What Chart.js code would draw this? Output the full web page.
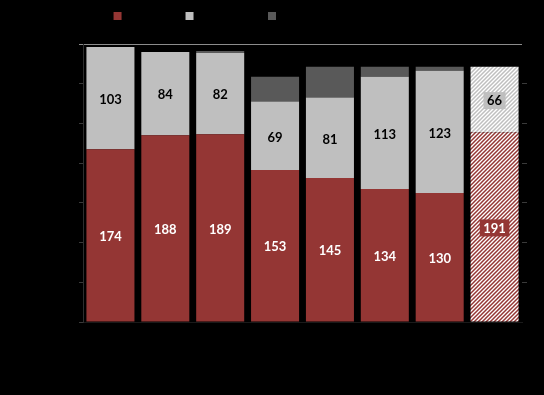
<!DOCTYPE html>
<html><head><meta charset="utf-8">
<style>html,body{margin:0;padding:0;background:#000;}#wrap{width:544px;height:395px;}</style>
<script src="https://cdn.jsdelivr.net/npm/chart.js@4/dist/chart.umd.min.js"></script>
</head><body><div id="wrap"><canvas id="c" width="544" height="395"></canvas></div>
<script>
const categories = ['2016','2017','2018','2019','2020','2021','2022','2023e'];
const seriesNames = ['Germany','EU exports','Other countries/unspecified'];
const redValues = [174,188,189,153,145,134,130,191];
const lightValues = [103,84,82,69,81,113,123,66];
const darkValues = [0,0,2,25,31,10,4,0];
const yTicks = [0,40,80,120,160,200,240,280];
const forecastIndex = 7;

const RED = '#943634', LIGHT = '#bfbfbf', DARK = '#595959';

function hatch(color){
  const s = 4, c = document.createElement('canvas'); c.width = s; c.height = s;
  const g = c.getContext('2d');
  g.fillStyle = '#fff'; g.fillRect(0,0,s,s);
  g.strokeStyle = color; g.lineWidth = 1.5; g.beginPath();
  g.moveTo(0,s); g.lineTo(s,0);
  g.moveTo(-1,1); g.lineTo(1,-1);
  g.moveTo(s-1,s+1); g.lineTo(s+1,s-1);
  g.stroke();
  return g.createPattern(c,'repeat');
}
const redHatch = hatch(RED), lightHatch = hatch(LIGHT);

const legendFit = {id:'legendFit', beforeInit(chart){
  const l = chart.legend; if(!l) return;
  const f = l.fit;
  l.fit = function(){ f.call(l); this.height = 44; };
}};

const valueLabels = {id:'valueLabels', afterDatasetsDraw(chart){
  const ctx = chart.ctx; ctx.save();
  ctx.font = 'bold 13px Lato'; ctx.textAlign = 'center'; ctx.textBaseline = 'middle';
  [0,1].forEach(di => {
    const meta = chart.getDatasetMeta(di);
    meta.data.forEach((bar,i) => {
      const v = chart.data.datasets[di].data[i]; if(!v) return;
      const x = bar.x, y = (bar.y + bar.base)/2, t = String(v);
      if(i === forecastIndex){
        const w = ctx.measureText(t).width + 7, h = 17;
        ctx.fillStyle = di === 0 ? RED : LIGHT;
        ctx.fillRect(x - w/2, y - h/2 + 1, w, h);
      }
      ctx.fillStyle = di === 0 ? '#ffffff' : '#000000';
      ctx.fillText(t, x, y + 1.5);
    });
  });
  ctx.restore();
}};

new Chart(document.getElementById('c'), {
  type:'bar',
  data:{
    labels: categories,
    datasets:[
      {label: seriesNames[0], data: redValues, backgroundColor: c => c.dataIndex === forecastIndex ? redHatch : RED},
      {label: seriesNames[1], data: lightValues, backgroundColor: c => c.dataIndex === forecastIndex ? lightHatch : LIGHT},
      {label: seriesNames[2], data: darkValues, backgroundColor: DARK}
    ]
  },
  options:{
    responsive:false, animation:false, devicePixelRatio:1,
    categoryPercentage:1, barPercentage:0.875,
    layout:{padding:0},
    plugins:{
      legend:{position:'top', labels:{boxWidth:8, boxHeight:8, padding:10, color:'#000', font:{family:'Lato', size:12}}},
      tooltip:{enabled:false}
    },
    scales:{
      x:{stacked:true, grid:{display:false}, border:{color:'#1a1a1a'},
         ticks:{color:'#000', font:{family:'Lato', size:12}},
         afterFit: s => { s.height = 73; }},
      y:{stacked:true, min:0, max:280, position:'left',
         afterBuildTicks: s => { s.ticks = yTicks.map(v => ({value:v})); },
         grid:{color: c => c.tick && c.tick.value === 280 ? '#8c8c8c' : 'rgba(0,0,0,0)',
               tickColor: c => c.tick && c.tick.value === 280 ? '#8c8c8c' : '#3a3a3a', tickLength:4},
         border:{color:'#2e2e2e'},
         ticks:{color:'#000', font:{family:'Lato', size:12}},
         afterFit: s => { s.width = 83; }},
      yR:{min:0, max:280, position:'right',
         afterBuildTicks: s => { s.ticks = yTicks.map(v => ({value:v})); },
         grid:{drawOnChartArea:false, tickLength:5, tickColor: c => (c.tick && (c.tick.value === 280 || c.tick.value === 0)) ? 'rgba(0,0,0,0)' : '#3a3a3a'},
         border:{display:false},
         ticks:{display:false},
         afterFit: s => { s.width = 22; }}
    }
  },
  plugins:[legendFit, valueLabels]
});
</script></body></html>
